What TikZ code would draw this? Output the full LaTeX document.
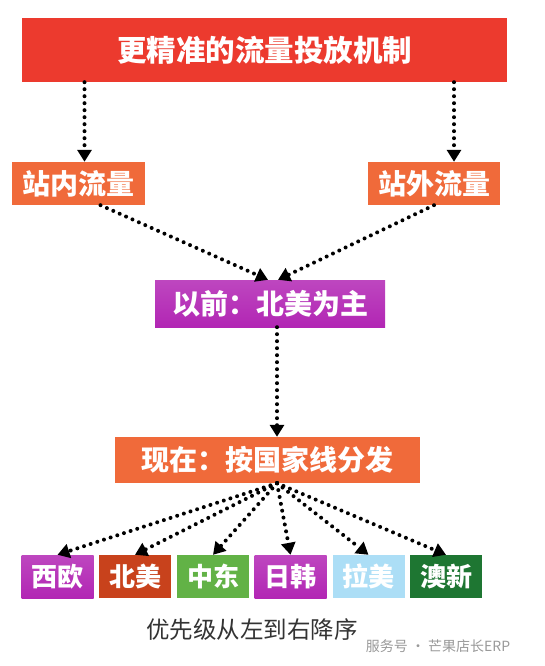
\documentclass[tikz,border=0pt]{standalone}
\usepackage{fontspec}
\setmainfont{Noto Sans CJK SC}
\usepackage{xcolor}
\usetikzlibrary{arrows.meta}
\definecolor{topred}{RGB}{236,58,46}
\definecolor{flowor}{RGB}{240,106,58}
\definecolor{oldpur}{RGB}{178,38,180}
\definecolor{naor}{RGB}{200,66,28}
\definecolor{megrn}{RGB}{98,178,70}
\definecolor{labl}{RGB}{172,222,246}
\definecolor{anzgrn}{RGB}{30,118,50}

\begin{document}
\begin{tikzpicture}[x=1pt, y=-1pt,
  box/.style={rectangle, inner sep=0pt, text=white, font=\bfseries\fontsize{28}{32}\selectfont},
  small/.style={box, minimum width=72pt, minimum height=43pt, font=\bfseries\fontsize{26}{30}\selectfont},
  flow/.style={line width=4pt, line cap=round, dash pattern=on 0pt off 7pt, -{Triangle[length=12pt,width=14pt]}}]
\useasboundingbox (0,0) rectangle (545,666);
%%%%% Boxes %%%%%
\node[box, fill=topred, minimum width=485pt, minimum height=64pt, font=\bfseries\fontsize{29.5}{32}\selectfont] (top) at (264.5,50) {更精准的流量投放机制};
\node[box, fill=flowor, minimum width=133pt, minimum height=43pt] (inner) at (78.5,183.5) {站内流量};
\node[box, fill=flowor, minimum width=132pt, minimum height=43pt] (outer) at (434,183.5) {站外流量};
\node[box, top color=oldpur!85, bottom color=oldpur, minimum width=230pt, minimum height=47pt] (before) at (270,303.5) {以前：北美为主};
\node[box, fill=flowor, minimum width=305pt, minimum height=46pt] (now) at (267.5,460) {现在：按国家线分发};
\node[small, top color=oldpur!85, bottom color=oldpur] (weu) at (57.5,576.5) {西欧};
\node[small, fill=naor] (nam) at (135,576.5) {北美};
\node[small, fill=megrn] (mea) at (213,576.5) {中东};
\node[small, top color=oldpur!85, bottom color=oldpur] (jpk) at (290.5,576.5) {日韩};
\node[small, fill=labl] (lam) at (368.5,576.5) {拉美};
\node[small, fill=anzgrn] (anz) at (446,576.5) {澳新};
%%%%% Texts %%%%%
\node[text=black!80, font=\fontsize{23.5}{27}\selectfont] (note) at (252,630) {优先级从左到右降序};
\node[text=black!40, font=\fontsize{14}{16}\selectfont] (mark) at (438,646) {服务号 · 芒果店长ERP};
%%%%% Arrows %%%%%
\draw[flow] ([xshift=6pt]inner.north |- top.south) -- ([xshift=6pt]inner.north);
\draw[flow] ([xshift=20pt]outer.north |- top.south) -- ([xshift=20pt]outer.north);
\draw[flow] ([xshift=22pt]inner.south) -- ([xshift=-2pt]before.north);
\draw[flow] (outer.south) -- ([xshift=8pt]before.north);
\draw[flow] ([xshift=7pt]before.south) -- ([xshift=9.5pt]now.north);
\foreach \n in {weu,nam,mea,jpk,lam,anz}{
\draw[flow] ([xshift=9.5pt]now.south) -- (\n.north);
}
\end{tikzpicture}
\end{document}
